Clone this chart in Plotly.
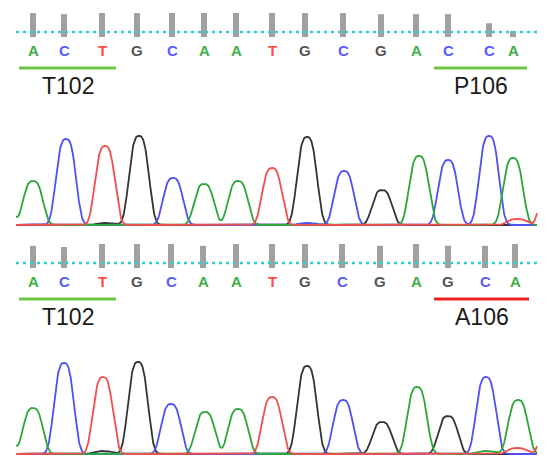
import numpy as np
import plotly.graph_objects as go

# ---------------- data ----------------
bases_top = list("ACTGCAATGCGACCA")
bases_bot = list("ACTGCAATGCGAGCA")
base_pos_top = [33, 64, 102, 137, 172, 204, 236, 272, 305, 343, 381, 416, 448, 489, 513]
base_pos_bot = [33, 64, 102, 137, 171, 203, 236, 272, 305, 342, 380, 416, 448, 485, 515]
qv_top = [40, 38, 40, 40, 40, 40, 40, 40, 40, 40, 38, 38, 38, 23, 10]
qv_bot = [37, 35, 40, 40, 40, 37, 40, 40, 40, 40, 37, 40, 37, 37, 40]

# chromatogram peaks (scan position, base, signal height)
peak_pos_top = [2, 33, 66, 105, 139, 173, 204, 238, 272, 307, 344, 382, 419, 448, 489, 513, 551,
                106, 308, 517]
peak_base_top = ["A", "A", "C", "T", "G", "C", "A", "A", "T", "G", "C", "G", "A", "C", "C", "A", "T",
                 "G", "C", "T"]
peak_h_top = [30, 44, 86, 79, 89, 47, 41, 44, 57, 88, 54, 35, 69, 65, 89, 67, 60,
              2, 2, 6]

peak_pos_bot = [2, 33, 64, 103, 138, 171, 205, 238, 272, 307, 343, 382, 417, 448, 486, 518, 552,
                103, 486, 517]
peak_base_bot = ["A", "A", "C", "T", "G", "C", "A", "A", "T", "G", "C", "G", "A", "G", "C", "A", "T",
                 "G", "A", "T"]
peak_h_bot = [30, 46, 91, 77, 92, 50, 42, 45, 57, 88, 54, 32, 67, 38, 77, 54, 58,
              3, 3, 6]

codon_labels_top = ["T102", "P106"]
codon_labels_bot = ["T102", "A106"]
codon_start = [0, 12]
codon_end = [2, 14]
codon_colors_top = ["#6cc644", "#6cc644"]
codon_colors_bot = ["#6cc644", "#ee2020"]

# ---------------- styles ----------------
base_colors = {"A": "#2aa63a", "C": "#4f4ff5", "T": "#f24e4e", "G": "#333333"}
letter_colors = {"A": "#3cb043", "C": "#5a5aff", "T": "#ff4d4d", "G": "#555555"}
draw_order = ["G", "C", "A", "T"]
PEAK_W = 11.9
PEAK_P = 3.0
X0, X1 = 16, 537

fig = go.Figure()

def seq_panel(yref, bases, pos, qv, labels, colors):
    fig.add_trace(go.Bar(x=pos, y=[q * 0.6 for q in qv], base=63, width=6,
                         marker=dict(color="#a0a0a0", line=dict(width=0)),
                         yaxis=yref, xaxis="x", showlegend=False, hoverinfo="skip"))
    fig.add_trace(go.Scatter(x=[X0, X1], y=[68, 68], mode="lines",
                             line=dict(color="#2fd0d0", width=2.5, dash="3px,4px"),
                             yaxis=yref, xaxis="x", showlegend=False, hoverinfo="skip"))
    for b, p in zip(bases, pos):
        fig.add_annotation(x=p, y=50, xref="x", yref=yref, text="<b>%s</b>" % b,
                           showarrow=False, font=dict(family="Liberation Sans", size=15,
                                                      color=letter_colors[b]),
                           xanchor="center", yanchor="middle")
    for lab, s, e, c in zip(labels, codon_start, codon_end, colors):
        x0 = pos[s] - 14
        x1 = pos[e] + 14
        fig.add_trace(go.Scatter(x=[x0, x1], y=[32, 32], mode="lines",
                                 line=dict(color=c, width=3),
                                 yaxis=yref, xaxis="x", showlegend=False, hoverinfo="skip"))
        fig.add_annotation(x=(x0 + x1) / 2, y=14, xref="x", yref=yref, text=lab,
                           showarrow=False, font=dict(family="Liberation Sans", size=23,
                                                      color="#1a1a1a"),
                           xanchor="center", yanchor="middle")

def chrom_panel(yref, ppos, pbase, ph):
    xs = np.arange(X0, X1 + 0.01, 0.5)
    for b in draw_order:
        ys = np.zeros_like(xs)
        for p, bb, h in zip(ppos, pbase, ph):
            if bb == b:
                ys += h * np.exp(-(np.abs(xs - p) / PEAK_W) ** PEAK_P)
        fig.add_trace(go.Scatter(x=xs, y=ys, mode="lines",
                                 line=dict(color=base_colors[b], width=1.8),
                                 yaxis=yref, xaxis="x", showlegend=False, hoverinfo="skip"))

seq_panel("y", bases_top, base_pos_top, qv_top, codon_labels_top, codon_colors_top)
chrom_panel("y2", peak_pos_top, peak_base_top, peak_h_top)
seq_panel("y3", bases_bot, base_pos_bot, qv_bot, codon_labels_bot, codon_colors_bot)
chrom_panel("y4", peak_pos_bot, peak_base_bot, peak_h_bot)

H = 466.0
def dom(p0, p1):
    return [1 - p1 / H, 1 - p0 / H]

hidden = dict(visible=False, showgrid=False, zeroline=False, fixedrange=True)
fig.update_layout(
    width=550, height=466,
    margin=dict(l=0, r=0, t=0, b=0),
    paper_bgcolor="white", plot_bgcolor="rgba(0,0,0,0)",
    barmode="overlay",
    xaxis=dict(range=[0, 550], domain=[0, 1], **hidden),
    yaxis=dict(range=[0, 100], domain=dom(0, 100), **hidden),
    yaxis2=dict(range=[-11, 115], domain=dom(110, 236), anchor="x", **hidden),
    yaxis3=dict(range=[0, 100], domain=dom(231, 331), anchor="x", **hidden),
    yaxis4=dict(range=[-12, 114], domain=dom(340, 466), anchor="x", **hidden),
    showlegend=False,
)

fig.write_html("out.html", config={"staticPlot": True},
               post_script="document.body.style.margin='0';document.body.style.overflow='hidden';")
